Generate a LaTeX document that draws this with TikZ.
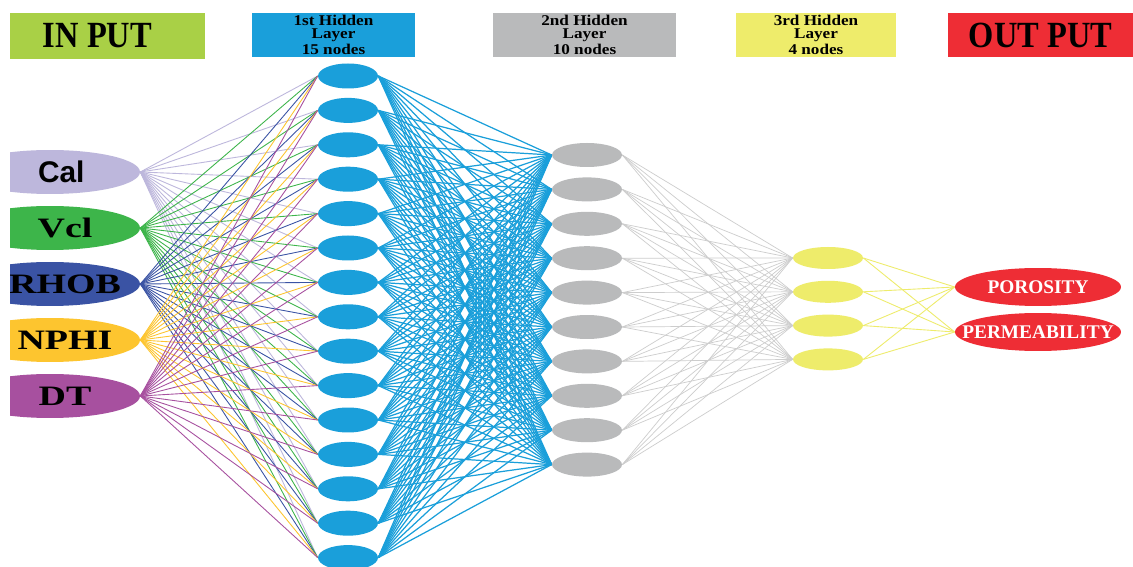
\documentclass[tikz,border=0pt]{standalone}
\usepackage{graphicx}
\usepackage{fontspec}
\setmainfont{Liberation Serif}
\newfontfamily\calfont{Liberation Sans}
\usetikzlibrary{positioning, shapes.geometric, backgrounds}

\definecolor{headgreen}{HTML}{A9D046}
\definecolor{hblue}{HTML}{1A9FDA}
\definecolor{hgray}{HTML}{B9BABB}
\definecolor{hyellow}{HTML}{EEEC6B}
\definecolor{hred}{HTML}{EE2D35}
\definecolor{incal}{HTML}{BDB7DC}
\definecolor{invcl}{HTML}{3DB54A}
\definecolor{inrhob}{HTML}{3A53A4}
\definecolor{innphi}{HTML}{FDC52F}
\definecolor{indt}{HTML}{A7509F}
\definecolor{linkgray}{HTML}{CDCDCD}

\newcommand{\inlabel}[1]{\makebox[0pt]{\hspace*{0.6cm}\scalebox{1.35}[1]{#1}}}

\begin{document}
\begin{tikzpicture}[x=0.02cm, y=-0.02cm,
  % Header Boxes
  headbox/.style={rectangle, inner sep=0pt, minimum height=0.88cm, align=center, font=\fontsize{8.5}{7.4}\selectfont\bfseries},
  bighead/.style={headbox, font=\fontsize{21}{21}\selectfont\bfseries},
  % Layer Nodes
  innode/.style={ellipse, fill=#1, inner sep=0pt, minimum width=3.6cm, minimum height=0.88cm, font=\fontsize{16}{16}\selectfont\bfseries},
  hone/.style={ellipse, fill=hblue, inner sep=0pt, minimum width=1.2cm, minimum height=0.5cm},
  htwo/.style={ellipse, fill=hgray, inner sep=0pt, minimum width=1.4cm, minimum height=0.48cm},
  hthree/.style={ellipse, fill=hyellow, inner sep=0pt, minimum width=1.4cm, minimum height=0.44cm},
  outnode/.style={ellipse, fill=hred, text=white, inner sep=0pt, minimum width=3.32cm, minimum height=0.76cm, font=\fontsize{11}{11}\selectfont\bfseries},
  % Links
  inlink/.style={#1, line width=0.5pt},
  blink/.style={hblue, line width=0.7pt},
  glink/.style={linkgray, line width=0.4pt},
  ylink/.style={hyellow, line width=0.5pt}
]
\useasboundingbox (0,0) rectangle (1133,567);

% Headers
\node[bighead, fill=headgreen, minimum width=3.9cm, minimum height=0.92cm] (inhead) at (107.5,36) {\scalebox{0.88}[1]{IN PUT}\hspace*{0.4cm}};
\node[headbox, fill=hblue, minimum width=3.26cm] (h1head) at (333.5,35) {\scalebox{1.15}[1]{1st Hidden}\\\scalebox{1.15}[1]{Layer}\\\scalebox{1.15}[1]{15 nodes}};
\node[headbox, fill=hgray, minimum width=3.66cm] (h2head) at (584.5,35) {\scalebox{1.15}[1]{2nd Hidden}\\\scalebox{1.15}[1]{Layer}\\\scalebox{1.15}[1]{10 nodes}};
\node[headbox, fill=hyellow, minimum width=3.2cm] (h3head) at (816,35) {\scalebox{1.15}[1]{3rd Hidden}\\\scalebox{1.15}[1]{Layer}\\\scalebox{1.15}[1]{4 nodes}};
\node[bighead, fill=hred, minimum width=3.7cm] (outhead) at (1040.5,35) {\scalebox{0.88}[1]{OUT PUT}};

% Input layer
\begin{scope}
  \clip (10,0) rectangle (300,567);
  \node[innode=incal] (cal) at (50,172) {\makebox[0pt]{\hspace*{0.45cm}\calfont\fontsize{17}{17}\selectfont Cal}};
  \node[innode=invcl] (vcl) at (50,228) {\inlabel{Vcl}};
  \node[innode=inrhob] (rhob) at (50,284) {\inlabel{RHOB}};
  \node[innode=innphi] (nphi) at (50,340) {\inlabel{NPHI}};
  \node[innode=indt] (dt) at (50,396) {\inlabel{DT}};
\end{scope}

% Hidden layers
\foreach \i in {1,...,15}
  \node[hone] (h1-\i) at (348,{76+34.4*(\i-1)}) {};
\foreach \i in {1,...,10}
  \node[htwo] (h2-\i) at (587,{155+34.4*(\i-1)}) {};
\foreach \i in {1,...,4}
  \node[hthree] (h3-\i) at (828,{258+33.8*(\i-1)}) {};

% Output layer
\node[outnode] (poro) at (1038,287) {\makebox[0pt]{POROSITY}};
\node[outnode] (perm) at (1038,332) {\makebox[0pt]{PERMEABILITY}};

% Links
\begin{scope}[on background layer]
  \fill[white] (0,0) rectangle (1133,567);
  \foreach \n/\c in {cal/incal, vcl/invcl, rhob/inrhob, nphi/innphi, dt/indt}
    \foreach \j in {1,...,15}
      \draw[inlink=\c] (\n.east) -- (h1-\j.west);
  \foreach \i in {1,...,15}
    \foreach \j in {1,...,10}
      \draw[blink] (h1-\i.east) -- (h2-\j.west);
  \foreach \i in {1,...,10}
    \foreach \j in {1,...,4}
      \draw[glink] (h2-\i.east) -- (h3-\j.west);
  \foreach \i in {1,...,4}
    \foreach \o in {poro, perm}
      \draw[ylink] (h3-\i.east) -- (\o.west);
\end{scope}

\end{tikzpicture}
\end{document}
